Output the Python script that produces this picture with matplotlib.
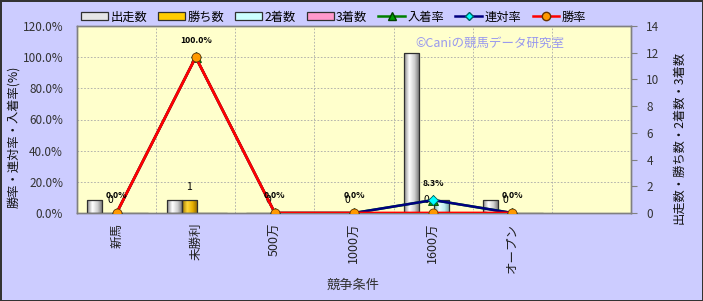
import numpy as np
import matplotlib
matplotlib.use('Agg')
import matplotlib.pyplot as plt
from matplotlib.colors import LinearSegmentedColormap
from matplotlib.patches import Patch
from matplotlib.lines import Line2D

plt.rcParams['font.family'] = ['Noto Sans CJK JP', 'DejaVu Sans']

# ---- data ----
categories = ['新馬', '未勝利', '500万', '1000万', '1600万', 'オープン', '']
runs = [1, 1, 0, 0, 12, 1]
wins = [0, 1, 0, 0, 0, 0]
seconds = [0, 0, 0, 0, 1, 0]
thirds = [0, 0, 0, 0, 0, 0]
win_rate = [0.0, 100.0, 0.0, 0.0, 0.0, 0.0]
rentai_rate = [0.0, 100.0, 0.0, 0.0, 8.3, 0.0]
place_rate = [0.0, 100.0, 0.0, 0.0, 8.3, 0.0]
pct_ticks = [0, 20, 40, 60, 80, 100, 120]
count_ticks = [0, 2, 4, 6, 8, 10, 12, 14]

W, H = 703, 301
fig = plt.figure(figsize=(W / 100, H / 100), dpi=100)
fig.patch.set_facecolor('#ccccff')
fig.patch.set_edgecolor('#333333')
fig.patch.set_linewidth(2)

left, right, top, bottom = 77, 631, 26, 213
ax = fig.add_axes([left / W, 1 - bottom / H, (right - left) / W, (bottom - top) / H])
ax.set_facecolor('#ffffcc')
ax2 = ax.twinx()

n = len(categories)
xs = np.arange(n)
xl = np.arange(len(runs))
bw = 0.19

series = [
    (runs, -1.5, ['#8a8a8a', '#ffffff', '#d0d0d0', '#6e6e6e']),
    (wins, -0.5, ['#a07800', '#ffd83a', '#e6b000', '#8a6400']),
    (seconds, 0.5, ['#80b4b4', '#e6ffff', '#bfeeee', '#6fa0a0']),
    (thirds, 1.5, ['#b05a85', '#ffc0dd', '#f090c0', '#9a4a72']),
]
grad = np.linspace(0, 1, 64).reshape(1, -1)
for vals, off, cols in series:
    bars = ax.bar(xl + off * bw + 0.012, vals, width=bw, facecolor='none',
                  edgecolor='#303030', linewidth=0.9, zorder=3)
    cmap = LinearSegmentedColormap.from_list('g', cols)
    for p in bars.patches:
        if p.get_height() <= 0:
            continue
        x0, y0, w, h = p.get_x(), p.get_y(), p.get_width(), p.get_height()
        im = ax.imshow(grad, cmap=cmap, extent=[x0, x0 + w, y0, y0 + h],
                       aspect='auto', zorder=2, interpolation='bilinear')
        im.set_clip_path(p)

# grid lines (behind bars)
for t in pct_ticks[1:-1]:
    ax.axhline(t / pct_ticks[-1] * count_ticks[-1], color='#a8a8a8',
               linestyle=(0, (2, 2)), linewidth=0.6, zorder=1)
for b in xs[:-1] + 0.5:
    ax.axvline(b, color='#a8a8a8', linestyle=(0, (2, 2)), linewidth=0.6, zorder=1)

# win count labels
for xi, v in zip(xl, wins):
    ax.annotate(f'{v}', (xi - 0.5 * bw + 0.012, v), xytext=(0, 13), textcoords='offset pixels',
                ha='center', va='center', fontsize=7.5, zorder=6)

ax.set_xlim(-0.5, n - 0.5)
ax.set_ylim(0, count_ticks[-1])
ax.set_yticks(count_ticks)
ax.yaxis.tick_right()
ax.tick_params(axis='y', right=True, left=False, length=4, direction='out',
               colors='#808080', labelcolor='#333333', labelsize=8.5, pad=7)
ax.set_xticks(xs)
ax.set_xticklabels(categories, rotation=90, fontsize=9, color='#222222')
ax.tick_params(axis='x', length=0, pad=7)

# lines
ax2.plot(xl, place_rate, color='#008000', lw=1.8, marker='^', ms=7,
         mfc='#00a000', mec='#004000', mew=0.6, zorder=3)
ax2.plot(xl, rentai_rate, color='#000080', lw=1.8, marker='D', ms=5.5,
         mfc='#00ffff', mec='#006060', mew=0.6, zorder=4)
ax2.plot(xl, win_rate, color='#ff0000', lw=2.0, marker='o', ms=6.5,
         mfc='#ff9900', mec='#663300', mew=0.6, zorder=5)
for xi, v in zip(xl, rentai_rate):
    ax2.annotate(f'{v:.1f}%', (xi, v), xytext=(0, 17), textcoords='offset pixels',
                 ha='center', va='center', fontsize=6.3, fontweight='bold', zorder=7)

ax2.set_ylim(0, pct_ticks[-1])
ax2.set_yticks(pct_ticks)
ax2.set_yticklabels([f'{t:.1f}%' for t in pct_ticks])
ax2.yaxis.tick_left()
ax2.tick_params(axis='y', left=True, right=False, length=0, labelsize=8.5,
                labelcolor='#333333', pad=10)
for a in (ax, ax2):
    for s in a.spines.values():
        s.set_color('#808080')
        s.set_linewidth(1.0)

# axis titles
fig.text(14 / W, 1 - 137 / H, '勝率・連対率・入着率(%)', rotation=90,
         ha='center', va='center', fontsize=8.8, color='#111111')
fig.text(679 / W, 1 - 137 / H, '出走数・勝ち数・2着数・3着数', rotation=90,
         ha='center', va='center', fontsize=8.8, color='#111111')
fig.text(353 / W, 1 - 285 / H, '競争条件', ha='center', va='center',
         fontsize=9.5, color='#333333')
fig.text(415 / W, 1 - 43 / H, '©Caniの競馬データ研究室', ha='left', va='center',
         fontsize=9, color='#9999ee')

# legend
handles = [
    Patch(facecolor='#e6e6e6', edgecolor='#303030', lw=0.9),
    Patch(facecolor='#ffcc00', edgecolor='#303030', lw=0.9),
    Patch(facecolor='#ccffff', edgecolor='#303030', lw=0.9),
    Patch(facecolor='#ff99cc', edgecolor='#303030', lw=0.9),
    Line2D([], [], color='#008000', lw=1.8, marker='^', ms=6, mfc='#00a000', mec='#004000'),
    Line2D([], [], color='#000080', lw=1.8, marker='D', ms=4.5, mfc='#00ffff', mec='#006060'),
    Line2D([], [], color='#ff0000', lw=1.8, marker='o', ms=6, mfc='#ff9900', mec='#663300'),
]
labels = ['出走数', '勝ち数', '2着数', '3着数', '入着率', '連対率', '勝率']
fig.legend(handles, labels, loc='center left', bbox_to_anchor=(81 / W, 1 - 17 / H),
           ncol=7, frameon=False, fontsize=8.8, handlelength=2.2, handleheight=0.6,
           handletextpad=0.2, columnspacing=0.9, borderaxespad=0, borderpad=0)

fig.savefig('out.png', dpi=100)
